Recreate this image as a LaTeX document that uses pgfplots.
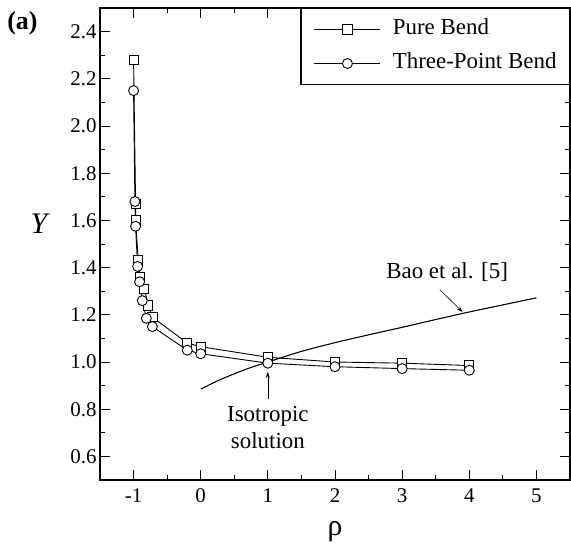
\documentclass[border=0pt]{standalone}
\usepackage{fontspec}
\setmainfont{Liberation Serif}
\usepackage{pgfplots}
\pgfplotsset{compat=1.18}
\usetikzlibrary{arrows.meta}
\begin{document}
\begin{tikzpicture}
\begin{axis}[
  scale only axis,
  width=470bp, height=472bp,
  xmin=-1.5, xmax=5.5, ymin=0.5, ymax=2.5,
  xtick={-1,0,1,2,3,4,5},
  ytick={0.6,0.8,1.0,1.2,1.4,1.6,1.8,2.0,2.2,2.4},
  minor x tick num=1, minor y tick num=1,
  tick align=inside,
  major tick length=10bp, minor tick length=5bp,
  axis line style={line width=1.1pt},
  every tick/.style={line width=0.8pt, black},
  tick label style={font=\fontsize{21}{24}\selectfont},
  /pgf/number format/assume math mode=true,
  yticklabel style={xshift=0bp, /pgf/number format/fixed, /pgf/number format/precision=1, /pgf/number format/fixed zerofill},
  xticklabel style={yshift=-5bp},
  xlabel={\fontsize{30}{34}\selectfont ρ},
  xlabel style={at={(axis description cs:0.5,-0.11)}, anchor=center},
  ylabel={\fontsize{30}{34}\selectfont\itshape Y},
  ylabel style={at={(axis description cs:-0.130,0.542)}, rotate=-90, anchor=center},
  legend style={at={(1,1)}, anchor=north east, draw=black, line width=1.1pt,
    font=\fontsize{23}{26}\selectfont, inner xsep=13bp, inner ysep=11bp,
    row sep=14bp, cells={anchor=west},
    nodes={inner sep=0bp, text height=15bp, text depth=5bp},
    /tikz/every odd column/.append style={column sep=12bp}},
  legend image code/.code={\draw[#1, mark repeat=2, mark phase=2] plot coordinates {(0bp,0bp) (33bp,0bp) (66bp,0bp)};},
  clip=false,
]
\addplot[black, line width=0.9pt, mark=square*, mark size=4.6bp, mark options={fill=white, line width=0.9pt}] coordinates {
(-1.0,2.28) (-0.97,1.67) (-0.97,1.60) (-0.93,1.43) (-0.90,1.36) (-0.84,1.31)
(-0.78,1.24) (-0.72,1.19) (-0.2,1.08) (0,1.065) (1,1.02) (2,1.00) (3,0.995) (4,0.985)
};
\addlegendentry{Pure Bend}
\addplot[black, line width=0.9pt, mark=*, mark size=5bp, mark options={fill=white, line width=0.9pt}] coordinates {
(-1.0,2.15) (-0.98,1.68) (-0.97,1.575) (-0.94,1.405) (-0.91,1.34) (-0.87,1.26)
(-0.81,1.185) (-0.72,1.15) (-0.2,1.05) (0,1.035) (1,0.995) (2,0.98) (3,0.972) (4,0.965)
};
\addlegendentry{Three-Point Bend}
\addplot[black, line width=1.1pt, smooth, forget plot] coordinates {
(0,0.885) (0.25,0.92) (0.5,0.95) (0.75,0.977) (1,1.0) (1.5,1.045) (2,1.082)
(2.5,1.115) (3,1.147) (3.5,1.18) (4,1.212) (4.5,1.242) (5,1.272)
};
\node[font=\fontsize{23}{26}\selectfont] at (axis cs:3.67,1.379) {Bao et al. [5]};
\draw[-{Stealth[length=6bp,width=4bp]}, line width=0.6pt] (axis cs:3.56,1.307) -- (axis cs:3.90,1.212);
\node[font=\fontsize{23}{27}\selectfont, align=center] at (axis cs:1,0.722) {Isotropic\\solution};
\draw[-{Stealth[length=6bp,width=4bp]}, line width=0.6pt] (axis cs:1,0.842) -- (axis cs:1,0.958);
\node[font=\fontsize{26}{28}\selectfont\bfseries] at (axis description cs:-0.165,0.968) {(a)};
\end{axis}
\pgfresetboundingbox
\path[use as bounding box] (-100bp,-67bp) rectangle (471bp,480bp);
\end{tikzpicture}
\end{document}
